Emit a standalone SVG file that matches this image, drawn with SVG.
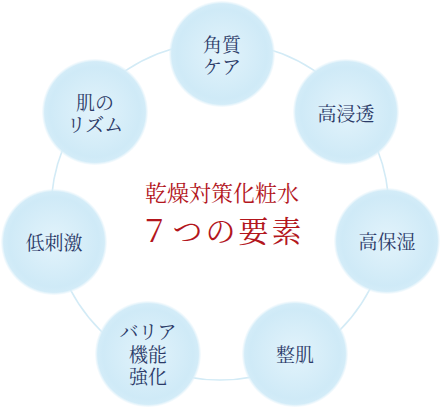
<svg xmlns="http://www.w3.org/2000/svg" width="440" height="409" viewBox="0 0 440 409">
<defs>
<radialGradient id="g" cx="0.5" cy="0.5" r="0.5">
<stop offset="0" stop-color="#e2f3fb"/>
<stop offset="0.85" stop-color="#cfeaf7"/>
<stop offset="0.95" stop-color="#d3ecf8"/>
<stop offset="1" stop-color="#e6f4fb" stop-opacity="0.3"/>
</radialGradient>
</defs>
<style>
.n{fill:url(#g);}
.t{font-family:"Noto Serif CJK JP","Noto Sans CJK JP",serif;font-size:19px;fill:#2b3a68;text-anchor:middle;}
.c{font-family:"Noto Serif CJK JP","Noto Sans CJK JP",serif;fill:#b3161d;text-anchor:middle;}
</style>
<rect width="440" height="409" fill="#ffffff"/>
<g id="connectors">
<circle cx="220" cy="211" r="169" fill="none" stroke="#d3ebf6" stroke-width="1.6"/>
</g>
<g id="node-kakushitsu"><circle class="n" cx="222" cy="54" r="53"/><text class="t" x="222" y="52">角質</text><text class="t" x="222" y="74">ケア</text></g>
<g id="node-koshinto"><circle class="n" cx="346" cy="112" r="53"/><text class="t" x="346" y="121">高浸透</text></g>
<g id="node-kohoshitsu"><circle class="n" cx="387" cy="241" r="53"/><text class="t" x="387" y="249">高保湿</text></g>
<g id="node-seiki"><circle class="n" cx="295" cy="354" r="53"/><text class="t" x="295" y="362">整肌</text></g>
<g id="node-barrier"><circle class="n" cx="148" cy="354" r="53"/><text class="t" x="148" y="339">バリア</text><text class="t" x="148" y="362">機能</text><text class="t" x="148" y="384">強化</text></g>
<g id="node-teishigeki"><circle class="n" cx="54" cy="242" r="53"/><text class="t" x="54" y="250">低刺激</text></g>
<g id="node-rhythm"><circle class="n" cx="95" cy="112" r="53"/><text class="t" x="95" y="110">肌の</text><text class="t" x="95" y="132">リズム</text></g>
<g id="center">
<text class="c" x="222" y="201" font-size="22">乾燥対策化粧水</text>
<text class="c" x="222" y="242" font-size="30" letter-spacing="3">７つの要素</text>
</g>
</svg>
